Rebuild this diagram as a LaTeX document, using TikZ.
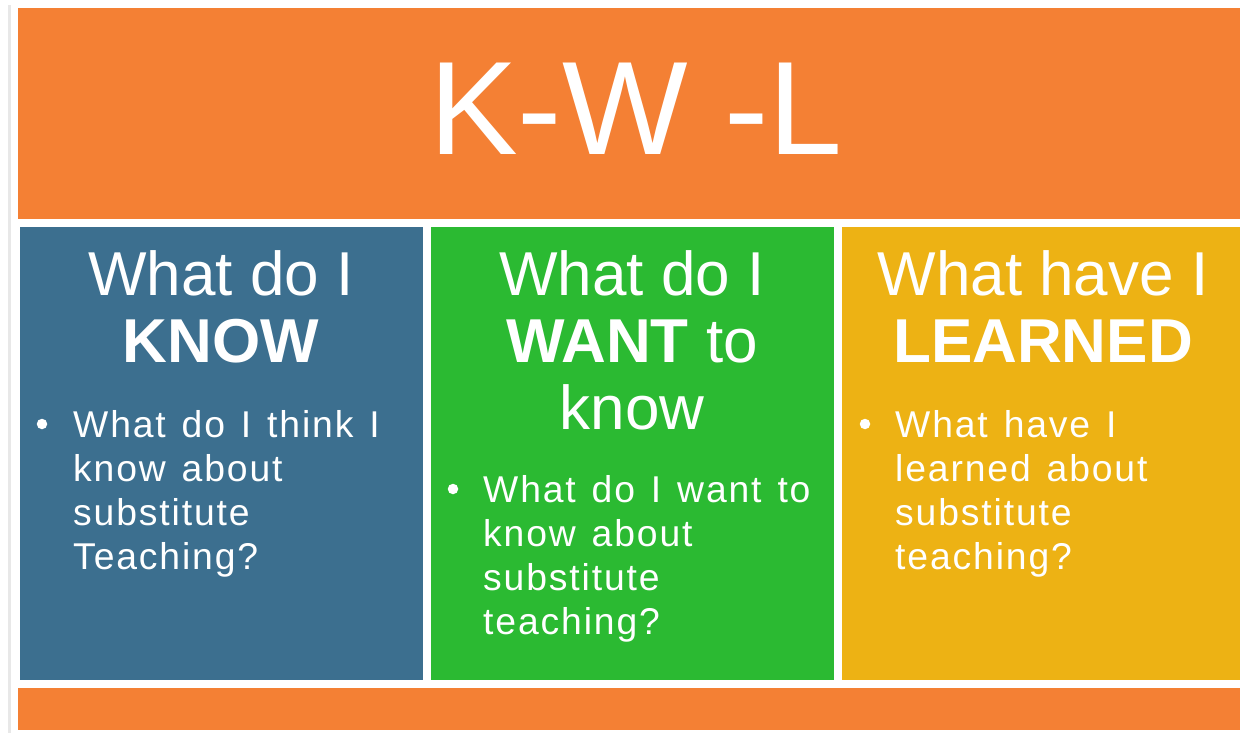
\documentclass[tikz,border=0pt]{standalone}
\usepackage{fontspec}
\setmainfont{Liberation Sans}
\newfontfamily\bodyfont[LetterSpace=5,WordSpace=1.3]{Liberation Sans}
\definecolor{kwlorange}{RGB}{244,128,52}
\definecolor{kwlblue}{RGB}{60,111,143}
\definecolor{kwlgreen}{RGB}{43,186,50}
\definecolor{kwlyellow}{RGB}{237,178,20}
\definecolor{cardshadow}{RGB}{232,232,232}
\begin{document}
\begin{tikzpicture}[x=1pt,y=-1pt,
  panel/.style={fill=#1,draw=none},
  headtext/.style={text=white,inner sep=0pt,align=center,anchor=north,
    font=\fontsize{62}{67}\selectfont},
  bodytext/.style={text=white,inner sep=0pt,align=left,anchor=north west,
    font=\bodyfont\fontsize{37.3}{44}\selectfont},
  bulletdot/.style={circle,fill=white,draw=none,inner sep=0pt,minimum size=10.5pt}]
  \useasboundingbox (0,0) rectangle (1240,733);
  % card and its faint left shadow
  \fill[white] (0,0) rectangle (1240,733);
  \fill[cardshadow] (8,5) rectangle (11,733);
  % bands and columns
  \fill[panel=kwlorange] (18,8) rectangle (1240,219);
  \fill[panel=kwlblue] (20,227) rectangle (423,680);
  \fill[panel=kwlgreen] (431,227) rectangle (834,680);
  \fill[panel=kwlyellow] (842,227) rectangle (1240,680);
  \fill[panel=kwlorange] (18,688) rectangle (1240,730);
  % title
  \node[text=white,inner sep=0pt,anchor=base,font=\fontsize{133}{140}\selectfont]
    (title) at (636,155) {K-W -L};
  % column headings
  \node[headtext] (headK) at (221,250) {What do I\\\textbf{KNOW}};
  \node[headtext] (headW) at (632,250) {What do I\\\textbf{WANT} to\\know};
  \node[headtext] (headL) at (1043,250) {What have I\\\textbf{LEARNED}};
  % bullet points
  \node[bulletdot] (dotK) at (42,424) {};
  \node[bodytext] (bodyK) at (73,410) {What do I think I\\know about\\substitute\\Teaching?};
  \node[bulletdot] (dotW) at (453,489) {};
  \node[bodytext] (bodyW) at (483,475) {What do I want to\\know about\\substitute\\teaching?};
  \node[bulletdot] (dotL) at (865,424) {};
  \node[bodytext] (bodyL) at (895,410) {What have I\\learned about\\substitute\\teaching?};
\end{tikzpicture}
\end{document}
